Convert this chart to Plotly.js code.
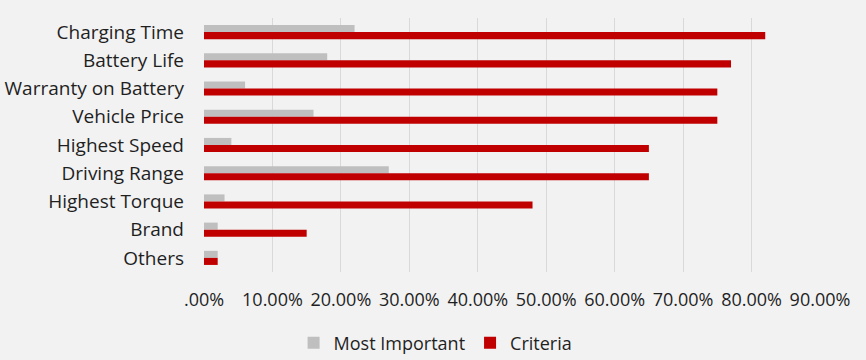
<!DOCTYPE html>
<html>
<head>
<meta charset="utf-8">
<script src="https://cdn.plot.ly/plotly-3.0.1.min.js"></script>
<style>html,body{margin:0;padding:0;background:#f2f2f2;}#chart{width:866px;height:360px;}</style>
</head>
<body>
<div id="chart"></div>
<script>
const categories = ["Charging Time","Battery Life","Warranty on Battery","Vehicle Price","Highest Speed","Driving Range","Highest Torque","Brand","Others"];
const mostImportant = [0.22,0.18,0.06,0.16,0.04,0.27,0.03,0.02,0.02];
const criteria = [0.82,0.77,0.75,0.75,0.65,0.65,0.48,0.15,0.02];
const tickVals = [0,0.1,0.2,0.3,0.4,0.5,0.6,0.7,0.8,0.9];
const tickText = [".00%","10.00%","20.00%","30.00%","40.00%","50.00%","60.00%","70.00%","80.00%","90.00%"];

const fam = "Open Sans, Noto Sans, sans-serif";
const yFont = {family: fam, size: 19, color: "#1f1f1f"};
const xFont = {family: fam, size: 18, color: "#1f1f1f"};
const legFont = {family: fam, size: 18, color: "#1f1f1f"};

const data = [
  {type:"bar", orientation:"h", name:"Most Important", y:categories, x:mostImportant, marker:{color:"#bfbfbf"}, hoverinfo:"none"},
  {type:"bar", orientation:"h", name:"Criteria", y:categories, x:criteria, marker:{color:"#c00000"}, hoverinfo:"none"}
];
const layout = {
  width:866, height:360,
  paper_bgcolor:"#f2f2f2", plot_bgcolor:"#f2f2f2",
  margin:{l:204, r:46, t:18, b:88},
  font: yFont,
  barmode:"group", bargap:0.5, bargroupgap:0,
  xaxis:{range:[0,0.9], tickvals:tickVals, ticktext:tickText, showgrid:true, gridcolor:"#d9d9d9", gridwidth:1, zeroline:false, showline:false, ticks:"", ticklabelstandoff:15, tickfont:xFont, fixedrange:true},
  yaxis:{autorange:"reversed", showgrid:false, zeroline:false, showline:false, ticks:"", ticklabelstandoff:19, tickfont:yFont, fixedrange:true},
  showlegend:true,
  legend:{orientation:"h", xref:"container", yref:"container", x:0.503, xanchor:"center", y:0.047, yanchor:"middle", font:legFont, traceorder:"normal", itemwidth:30, bgcolor:"rgba(0,0,0,0)"}
};
Plotly.newPlot("chart", data, layout, {displayModeBar:false, staticPlot:true});
</script>
</body>
</html>
